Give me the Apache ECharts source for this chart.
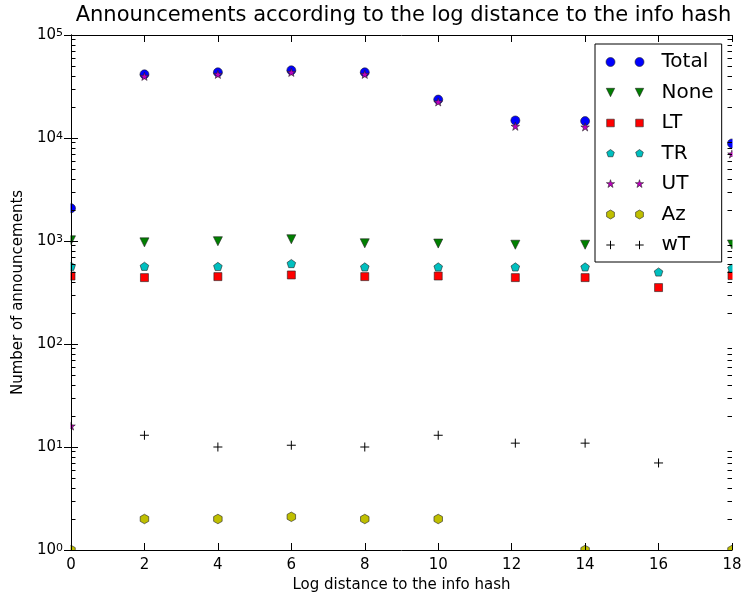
<!DOCTYPE html>
<html>
<head>
<meta charset="utf-8">
<script src="https://cdn.jsdelivr.net/npm/echarts@6/dist/echarts.min.js"></script>
<style>
  html, body { margin: 0; padding: 0; background: #fff; }
  #chart { width: 743px; height: 593px; }
</style>
</head>
<body>
<div id="chart"></div>
<script>
// Log distance buckets (x positions)
const distances = [0, 2, 4, 6, 8, 10, 12.1, 14, 16, 18];

// Announcement counts per client type (null = no point)
const totalCounts = [2080, 41500, 43400, 45400, 43400, 23600, 14800, 14600, null, 8850];
const noneCounts  = [1016, 970, 995, 1040, 950, 944, 920, 920, null, 925];
const ltCounts    = [457, 441, 451, 468, 451, 457, 441, 441, 353, 462];
const trCounts    = [568, 568, 566, 604, 560, 560, 560, 560, 500, 545];
const utCounts    = [16, 39700, 41500, 43400, 41500, 22400, 13000, 12800, null, 7000];
const azCounts    = [1, 2, 2, 2.1, 2, 2, null, 1, null, 1];
const wtCounts    = [null, 13, 10, 10.4, 10, 13, 10.9, 10.9, 7, null];

const xTicks = [0, 2, 4, 6, 8, 10, 12, 14, 16, 18];
const seriesNames = ['Total', 'None', 'LT', 'TR', 'UT', 'Az', 'wT'];

const FONT = 'DejaVu Sans';
const W = 743, H = 593;
const GRID = { left: 71, top: 35, right: 11, bottom: 43 };

// marker outlines as point lists in a unit box, centred at (0,0)
function polyPts(n, startDeg, r) {
  const pts = [];
  for (let i = 0; i < n; i++) {
    const a = (startDeg + i * 360 / n) * Math.PI / 180;
    pts.push([Math.cos(a) * r, -Math.sin(a) * r]);
  }
  return pts;
}
function starPts() {
  const pts = [];
  for (let i = 0; i < 10; i++) {
    const r = i % 2 === 0 ? 1 : 0.382;
    const a = (90 + i * 36) * Math.PI / 180;
    pts.push([Math.cos(a) * r, -Math.sin(a) * r]);
  }
  return pts;
}
const SHAPES = {
  tridown: [[-1, -1], [1, -1], [0, 1]],
  square: [[-1, -1], [1, -1], [1, 1], [-1, 1]],
  pentagon: polyPts(5, 90, 1),
  star: starPts(),
  hexagon: polyPts(6, 90, 1)
};

// path for one marker centred at (cx, cy) with half-size h
function shapePath(kind, cx, cy, h) {
  const f = v => v.toFixed(2);
  if (kind === 'circle') {
    return `M${f(cx - h)},${f(cy)} A${f(h)},${f(h)} 0 1,0 ${f(cx + h)},${f(cy)} A${f(h)},${f(h)} 0 1,0 ${f(cx - h)},${f(cy)} Z`;
  }
  if (kind === 'plus') {
    return `M${f(cx - h)},${f(cy)} L${f(cx + h)},${f(cy)} M${f(cx)},${f(cy - h)} L${f(cx)},${f(cy + h)}`;
  }
  const pts = SHAPES[kind];
  return pts.map((p, i) => (i ? 'L' : 'M') + f(cx + p[0] * h) + ',' + f(cy + p[1] * h)).join(' ') + ' Z';
}
// single marker symbol for the plot
function symbolPath(kind) {
  return 'path://' + shapePath(kind, 5, 5, 5);
}
// two markers side by side for the legend, in a 51 x 10 box
const LEG_W = 51, LEG_H = 10;
function legendPath(kind, half) {
  return 'path://M0,0 M' + LEG_W + ',' + LEG_H + ' ' +
    shapePath(kind, 5, 5, half) + ' ' + shapePath(kind, 34, 5, half);
}

const styles = [
  { name: 'Total', kind: 'circle',   color: '#0000ff', size: 9,          legHalf: 4.5 },
  { name: 'None',  kind: 'tridown',  color: '#008000', size: [9, 9],     legHalf: 4.2 },
  { name: 'LT',    kind: 'square',   color: '#ff0000', size: [8, 8],     legHalf: 3.8 },
  { name: 'TR',    kind: 'pentagon', color: '#00bfbf', size: [8.6, 8.2], legHalf: 4.0 },
  { name: 'UT',    kind: 'star',     color: '#bf00bf', size: [8.5, 8.2], legHalf: 4.3 },
  { name: 'Az',    kind: 'hexagon',  color: '#bfbf00', size: [8.5, 9.5], legHalf: 4.5 },
  { name: 'wT',    kind: 'plus',     color: '#000000', size: [9, 9],     legHalf: 4.2 }
];
const valueSets = [totalCounts, noneCounts, ltCounts, trCounts, utCounts, azCounts, wtCounts];

function pairs(values) {
  const out = [];
  values.forEach((v, i) => { if (v !== null) out.push([distances[i], v]); });
  return out;
}
function markerStyle(s) {
  return s.kind === 'plus'
    ? { color: 'rgba(0,0,0,0)', borderColor: '#000', borderWidth: 1, opacity: 1 }
    : { color: s.color, borderColor: '#222', borderWidth: 0.6, opacity: 1 };
}

const scatterSeries = styles.map((s, i) => ({
  name: s.name,
  type: 'scatter',
  xAxisIndex: 0,
  yAxisIndex: 0,
  symbol: s.kind === 'circle' ? 'circle' : symbolPath(s.kind),
  symbolSize: s.size,
  symbolKeepAspect: false,
  clip: false,
  z: -5,
  itemStyle: markerStyle(s),
  emphasis: { disabled: true },
  data: pairs(valueSets[i])
}));

// log minor tick positions (2..9 in every decade)
const minorTickValues = [];
for (let e = 0; e < 5; e++) {
  for (let k = 2; k <= 9; k++) minorTickValues.push(k * Math.pow(10, e));
}

const axisLineStyle = { show: true, lineStyle: { color: '#000', width: 1 } };
const majorTick = { show: true, inside: true, length: 7, lineStyle: { color: '#000', width: 1 } };
const minorTickOpt = { show: true, inside: true, length: 4.5, customValues: minorTickValues, lineStyle: { color: '#000', width: 1 } };

function logAxis(extra) {
  return Object.assign({
    type: 'log', logBase: 10, min: 1, max: 100000, z: 10,
    axisLine: axisLineStyle, axisTick: majorTick,
    axisLabel: { show: false }, splitLine: { show: false }
  }, extra);
}

const chart = echarts.init(document.getElementById('chart'), null, { renderer: 'canvas' });

const plotRight = W - GRID.right, plotBottom = H - GRID.bottom;

chart.setOption({
  animation: false,
  backgroundColor: '#fff',
  textStyle: { fontFamily: FONT },
  title: {
    text: 'Announcements according to the log distance to the info hash',
    left: (GRID.left + plotRight) / 2 + 2,
    textAlign: 'center',
    top: 5,
    padding: 0,
    z: 20,
    textStyle: { fontFamily: FONT, fontSize: 21, fontWeight: 'normal', color: '#000' }
  },
  grid: { left: GRID.left, top: GRID.top, right: GRID.right, bottom: GRID.bottom, containLabel: false, outerBoundsMode: 'none' },
  legend: {
    orient: 'vertical',
    left: 595,
    top: 44,
    padding: [8, 8, 7, 10],
    itemGap: 10.5,
    itemWidth: LEG_W,
    itemHeight: LEG_H,
    symbolRotate: 0,
    backgroundColor: '#fff',
    borderColor: '#000',
    borderWidth: 1,
    borderRadius: 0,
    z: 20,
    selectedMode: false,
    textStyle: { fontFamily: FONT, fontSize: 20, lineHeight: 20, color: '#000' },
    data: styles.map(s => ({
      name: s.name,
      icon: legendPath(s.kind, s.legHalf),
      itemStyle: markerStyle(s)
    }))
  },
  xAxis: [
    {
      type: 'value', position: 'bottom', min: 0, max: 18, interval: 2, z: 10,
      name: 'Log distance to the info hash', nameLocation: 'middle', nameGap: 19,
      nameTextStyle: { fontFamily: FONT, fontSize: 15, color: '#000' },
      axisLine: axisLineStyle, axisTick: majorTick,
      axisLabel: { fontFamily: FONT, fontSize: 15, color: '#000', margin: 8,
        formatter: v => String(xTicks.find(t => Math.abs(t - v) < 1e-9) ?? v) },
      splitLine: { show: false }
    },
    {
      type: 'value', position: 'top', min: 0, max: 18, interval: 2, z: 10,
      axisLine: axisLineStyle, axisTick: majorTick,
      axisLabel: { show: false }, splitLine: { show: false }
    }
  ],
  yAxis: [
    logAxis({
      position: 'left',
      name: 'Number of announcements', nameLocation: 'middle', nameGap: 38,
      nameTextStyle: { fontFamily: FONT, fontSize: 15, color: '#000' },
      axisLabel: {
        show: true, color: '#000', margin: 8,
        formatter: v => '{b|10}{s|' + Math.round(Math.log10(v)) + '}',
        rich: {
          b: { fontFamily: FONT, fontSize: 15, lineHeight: 15, verticalAlign: 'bottom', padding: [6, 0, 0, 0], color: '#000' },
          s: { fontFamily: FONT, fontSize: 11, lineHeight: 11, verticalAlign: 'top', color: '#000' }
        }
      }
    }),
    logAxis({ position: 'right' }),
    // minor log ticks, left and right frame edges
    logAxis({ position: 'left', axisLine: { show: false }, axisTick: minorTickOpt }),
    logAxis({ position: 'right', axisLine: { show: false }, axisTick: minorTickOpt })
  ],
  // white bands just outside the frame so edge markers are cut at the axes
  graphic: {
    elements: [
      { type: 'rect', z: 5, silent: true, shape: { x: GRID.left - 8, y: GRID.top - 8, width: 7.5, height: plotBottom - GRID.top + 16 }, style: { fill: '#fff' } },
      { type: 'rect', z: 5, silent: true, shape: { x: plotRight + 0.5, y: GRID.top - 8, width: 10, height: plotBottom - GRID.top + 16 }, style: { fill: '#fff' } },
      { type: 'rect', z: 5, silent: true, shape: { x: GRID.left - 8, y: plotBottom + 0.5, width: plotRight - GRID.left + 20, height: 7 }, style: { fill: '#fff' } },
      { type: 'rect', z: 5, silent: true, shape: { x: GRID.left - 8, y: GRID.top - 8, width: plotRight - GRID.left + 20, height: 7.5 }, style: { fill: '#fff' } }
    ]
  },
  series: scatterSeries
});
</script>
</body>
</html>
